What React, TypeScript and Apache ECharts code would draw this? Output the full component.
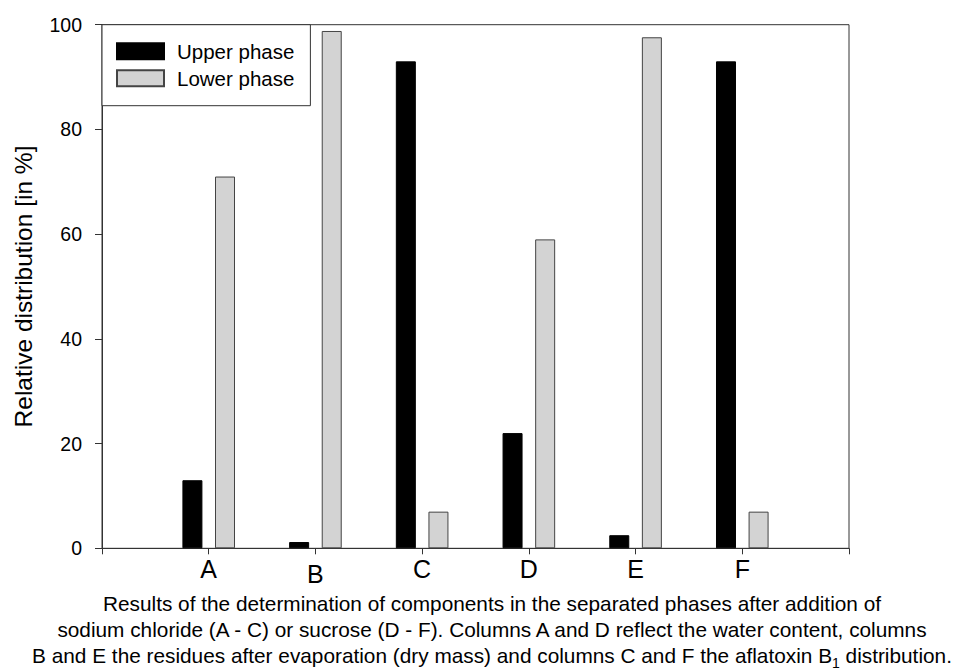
import React, { useEffect, useRef } from "react";
import * as echarts from "echarts";

// Sample columns and the share (%) found in each phase
const categories = ["A", "B", "C", "D", "E", "F"];
const upperPhase = [13, 1.2, 93, 22, 2.5, 93];
const lowerPhase = [71, 98.8, 7, 59, 97.6, 7];
const yTicks = { min: 0, max: 100, interval: 20 };

const captionLines = [
  "Results of the determination of components in the separated phases after addition of",
  "sodium chloride (A - C) or sucrose (D - F). Columns A and D reflect the water content, columns",
  "B and E the residues after evaporation (dry mass) and columns C and F the aflatoxin B{sub|1} distribution.",
];

const FONT = "'Liberation Sans', Arial, Helvetica, sans-serif";

export default function App() {
  const ref = useRef<HTMLDivElement>(null);

  useEffect(() => {
    if (!ref.current) return;
    const chart = echarts.init(ref.current, null, { renderer: "svg" });

    // empty slots on both ends give the axis its outer ticks
    const xData = ["", ...categories, ""];
    const pad = (arr: number[]) => [null, ...arr, null];

    chart.setOption({
      animation: false,
      backgroundColor: "#ffffff",
      textStyle: { fontFamily: FONT },
      grid: {
        left: 102,
        right: 106,
        top: 24.7,
        bottom: 121.7,
        show: true,
        borderColor: "#333",
        borderWidth: 1,
        backgroundColor: "transparent",
      },
      legend: {
        left: 102,
        top: 24.7,
        orient: "vertical",
        icon: "rect",
        itemWidth: 47,
        itemHeight: 16,
        itemGap: 6,
        padding: [16, 16, 17, 14],
        borderColor: "#333",
        borderWidth: 1,
        backgroundColor: "#fff",
        textStyle: {
          fontSize: 20.5,
          color: "#000",
          fontFamily: FONT,
          padding: [0, 0, 0, 8],
        },
        data: ["Upper phase", "Lower phase"],
      },
      xAxis: {
        type: "category",
        data: xData,
        boundaryGap: false,
        axisLine: { lineStyle: { color: "#333", width: 1 } },
        axisTick: {
          show: true,
          interval: 0,
          length: 6,
          lineStyle: { color: "#333" },
        },
        axisLabel: {
          interval: 0,
          fontSize: 25,
          color: "#000",
          margin: 8,
          fontFamily: FONT,
          formatter: (v: string) => (v === "B" ? "{low|B}" : v),
          rich: {
            low: { fontSize: 25, color: "#000", fontFamily: FONT, padding: [5, 0, 0, 0] },
          },
        },
        splitLine: { show: false },
      },
      yAxis: {
        type: "value",
        min: yTicks.min,
        max: yTicks.max,
        interval: yTicks.interval,
        axisLine: { show: true, lineStyle: { color: "#333", width: 1 } },
        axisTick: { show: true, length: 7, lineStyle: { color: "#333" } },
        axisLabel: { fontSize: 19.5, color: "#000", margin: 20, fontFamily: FONT },
        splitLine: { show: false },
      },
      series: [
        {
          name: "Upper phase",
          type: "bar",
          data: pad(upperPhase),
          barWidth: 20,
          barGap: "63%",
          itemStyle: { color: "#000000", borderColor: "#000", borderWidth: 1 },
        },
        {
          name: "Lower phase",
          type: "bar",
          data: pad(lowerPhase),
          barWidth: 20,
          itemStyle: { color: "#d3d3d3", borderColor: "#444", borderWidth: 1 },
        },
      ],
      graphic: [
        {
          type: "text",
          x: 23,
          y: 286.5,
          rotation: Math.PI / 2,
          style: {
            text: "Relative distribution [in %]",
            fontSize: 24.5,
            fontFamily: FONT,
            fill: "#000",
            align: "center",
            verticalAlign: "middle",
          },
        },
        {
          type: "text",
          x: 492,
          y: 590,
          style: {
            text: captionLines.join("\n"),
            fontSize: 20.8,
            lineHeight: 26,
            fontFamily: FONT,
            fill: "#000",
            align: "center",
            verticalAlign: "top",
            rich: {
              sub: {
                fontSize: 14,
                lineHeight: 10,
                padding: [16, 0, 0, 0],
                fontFamily: FONT,
                fill: "#000",
              },
            },
          },
        },
      ],
    });

    return () => chart.dispose();
  }, []);

  return (
    <div
      ref={ref}
      style={{ position: "fixed", left: 0, top: 0, width: 955, height: 670 }}
    />
  );
}
